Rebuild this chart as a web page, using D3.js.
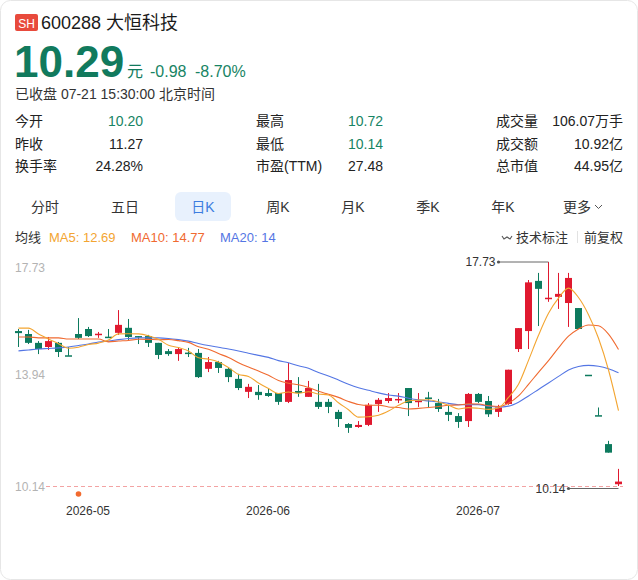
<!DOCTYPE html>
<html>
<head>
<meta charset="utf-8">
<script src="https://cdn.jsdelivr.net/npm/d3@7"></script>
<style>
  body { margin: 0; background: #fff; }
  svg text { font-family: "Liberation Sans", Arial, "Noto Sans CJK SC", sans-serif; }
</style>
</head>
<body>
<div id="card"></div>
<script>
// daily K data, 600288 大恒科技
var dates = [
  "2026-04-22","2026-04-23","2026-04-24","2026-04-27","2026-04-28","2026-04-29","2026-04-30",
  "2026-05-06","2026-05-07","2026-05-08","2026-05-11","2026-05-12","2026-05-13","2026-05-14","2026-05-15",
  "2026-05-18","2026-05-19","2026-05-20","2026-05-21","2026-05-22","2026-05-25","2026-05-26","2026-05-27",
  "2026-05-28","2026-05-29",
  "2026-06-01","2026-06-02","2026-06-03","2026-06-04","2026-06-05","2026-06-08","2026-06-09","2026-06-10",
  "2026-06-11","2026-06-12","2026-06-15","2026-06-16","2026-06-17","2026-06-18","2026-06-22","2026-06-23",
  "2026-06-24","2026-06-25","2026-06-26","2026-06-29","2026-06-30",
  "2026-07-01","2026-07-02","2026-07-03","2026-07-06","2026-07-07","2026-07-08","2026-07-09","2026-07-10",
  "2026-07-13","2026-07-14","2026-07-15","2026-07-16","2026-07-17","2026-07-20","2026-07-21"
];
var opens = [15.39,15.29,14.99,14.85,14.99,14.57,15.29,15.46,15.27,15.20,15.33,15.50,15.22,15.22,14.99,14.71,
  14.61,14.66,14.65,14.11,14.34,14.11,13.77,13.33,13.33,13.29,13.29,12.99,13.36,13.16,12.99,12.99,12.65,
  12.24,12.14,12.21,12.92,13.02,13.04,13.46,13.00,13.14,12.95,12.65,12.51,12.34,13.26,13.02,12.65,12.92,
  14.78,15.39,17.09,16.49,16.55,16.34,16.17,13.91,12.54,11.56,10.20];
var highs = [15.46,15.43,15.05,15.19,15.02,14.85,15.83,15.53,15.36,15.46,16.10,15.80,15.22,15.26,14.99,14.78,
  14.85,14.82,14.78,14.51,14.38,14.14,13.94,13.60,13.56,13.46,13.29,14.31,13.83,13.70,13.60,13.09,12.72,
  12.27,12.34,12.95,13.12,13.29,13.29,13.46,13.29,13.33,13.09,12.89,12.61,13.29,13.29,13.19,12.89,14.08,
  15.49,17.12,17.36,17.73,17.36,17.36,16.17,13.91,12.80,11.67,10.72];
var lows = [14.85,14.95,14.61,14.75,14.51,14.55,15.12,15.19,15.16,15.19,15.26,15.09,14.95,14.85,14.44,14.55,
  14.38,14.51,13.80,14.00,13.97,13.66,13.39,13.12,13.06,13.16,12.89,12.95,13.16,13.16,12.75,12.61,12.14,
  11.94,12.11,12.17,12.65,12.95,12.95,12.51,12.82,12.78,12.65,12.34,12.11,12.14,12.95,12.48,12.48,12.89,
  14.68,14.78,15.56,16.38,16.14,15.53,15.46,13.91,12.52,11.27,10.14];
var closes = [15.32,14.99,14.78,15.05,14.68,14.55,15.16,15.22,15.30,15.19,15.60,15.19,15.19,14.99,14.58,14.61,
  14.78,14.63,13.83,14.34,14.14,13.83,13.46,13.50,13.22,13.19,12.99,13.73,13.29,13.46,12.82,12.82,12.41,
  12.11,12.21,12.89,13.06,13.12,13.09,12.95,13.03,13.11,12.75,12.55,12.31,13.26,12.99,12.57,12.80,14.08,
  15.49,17.04,16.82,16.52,16.65,17.19,15.46,13.91,12.52,11.27,10.29];

// MA values for the days before the window is full
var ma5Head = [15.49, 15.49, 15.29, 15.12];
var ma10Head = [15.19, 15.19, 15.16, 15.16, 15.16, 15.12, 15.12, 15.12, 15.12];
var ma20Head = [14.72, 14.75, 14.78, 14.80, 14.82, 14.85, 14.90, 14.95, 15.02, 15.05,
  15.10, 15.14, 15.16, 15.16, 15.16, 15.14, 15.10, 15.05, 14.97];

// legend texts as shown on the quote page
var maNames = ["MA5", "MA10", "MA20"];
var maLegendValues = ["12.69", "14.77", "14"];

var yTicks = [17.73, 13.94, 10.14];
var monthTicks = ["2026-05-06", "2026-06-01", "2026-07-01"];
var eventDates = ["2026-04-30"];

var tabNames = ["分时", "五日", "日K", "周K", "月K", "季K", "年K", "更多"];
var statLabels = [["今开", "昨收", "换手率"], ["最高", "最低", "市盈(TTM)"], ["成交量", "成交额", "总市值"]];
var statValues = [["10.20", "11.27", "24.28%"], ["10.72", "10.14", "27.48"], ["106.07万手", "10.92亿", "44.95亿"]];
var statGreen = [[true, false, false], [true, true, false], [false, false, false]];

var RED = "#e0192f", GREEN = "#0d7a5e", TEXT = "#222";
var maColors = ["#f3a531", "#f06a30", "#5476e4"];

var W = 638, H = 580;
var svg = d3.select("#card").append("svg")
    .attr("width", W)
    .attr("height", H);

svg.append("rect")
    .attr("x", 0.5).attr("y", 0.5)
    .attr("width", W - 1).attr("height", H - 1)
    .attr("rx", 10)
    .attr("fill", "#fff")
    .attr("stroke", "#e6e6e6");

// ---- header
svg.append("rect")
    .attr("x", 15).attr("y", 14)
    .attr("width", 23).attr("height", 17)
    .attr("rx", 2)
    .attr("fill", "#e84a3c");
svg.append("text")
    .attr("x", 26.5).attr("y", 27.5)
    .attr("text-anchor", "middle")
    .attr("fill", "#fff")
    .style("font-size", "12px")
    .text("SH");
svg.append("text")
    .attr("x", 41).attr("y", 29)
    .attr("fill", "#1a1a1a")
    .style("font-size", "18px")
    .text("600288 大恒科技");

svg.append("text")
    .attr("x", 14).attr("y", 77)
    .attr("fill", "#117a5d")
    .style("font-size", "44px")
    .style("font-weight", "bold")
    .text("10.29");
svg.append("text")
    .attr("x", 127).attr("y", 77)
    .attr("fill", "#117a5d")
    .style("font-size", "16px")
    .text("元");
svg.append("text")
    .attr("x", 150).attr("y", 77)
    .attr("fill", "#178464")
    .style("font-size", "16px")
    .text("-0.98");
svg.append("text")
    .attr("x", 195).attr("y", 77)
    .attr("fill", "#178464")
    .style("font-size", "16px")
    .text("-8.70%");
svg.append("text")
    .attr("x", 15).attr("y", 99)
    .attr("fill", "#333")
    .style("font-size", "14px")
    .text("已收盘 07-21 15:30:00 北京时间");

// ---- stats grid
var colLabelX = [15, 256, 496], colValueX = [143, 383, 623], rowY = [126, 149, 171];
statLabels.forEach(function(col, c) {
    col.forEach(function(label, r) {
        svg.append("text")
            .attr("x", colLabelX[c]).attr("y", rowY[r])
            .attr("fill", TEXT)
            .style("font-size", "14px")
            .text(label);
        svg.append("text")
            .attr("x", colValueX[c]).attr("y", rowY[r])
            .attr("text-anchor", "end")
            .attr("fill", statGreen[c][r] ? "#178464" : TEXT)
            .style("font-size", "14px")
            .text(statValues[c][r]);
    });
});

// ---- period tabs
var tabX = [45, 125, 203, 278, 353, 428, 503, 577];
svg.append("rect")
    .attr("x", 175).attr("y", 192)
    .attr("width", 56).attr("height", 29)
    .attr("rx", 6)
    .attr("fill", "#e8f1fd");
tabNames.forEach(function(name, i) {
    svg.append("text")
        .attr("x", tabX[i]).attr("y", 212)
        .attr("text-anchor", "middle")
        .attr("fill", name == "日K" ? "#3d7de0" : "#333")
        .style("font-size", "14px")
        .text(name);
});
svg.append("path")
    .attr("d", "M595,205 l3.5,3.5 l3.5,-3.5")
    .attr("fill", "none")
    .attr("stroke", "#555")
    .attr("stroke-width", 1);

// ---- MA legend
svg.append("text")
    .attr("x", 15).attr("y", 242)
    .attr("fill", "#333")
    .style("font-size", "13px")
    .text("均线");
var legendX = [49, 131, 220];
maNames.forEach(function(name, i) {
    svg.append("text")
        .attr("x", legendX[i]).attr("y", 242)
        .attr("fill", maColors[i])
        .style("font-size", "13px")
        .text(name + ": " + maLegendValues[i]);
});
svg.append("path")
    .attr("d", "M502,236 l2,3 l3,-2 l3,2 l2,-3")
    .attr("fill", "none")
    .attr("stroke", "#555")
    .attr("stroke-width", 1.1);
svg.append("text")
    .attr("x", 516).attr("y", 242)
    .attr("fill", "#333")
    .style("font-size", "13px")
    .text("技术标注");
svg.append("line")
    .attr("x1", 577.5).attr("x2", 577.5)
    .attr("y1", 231).attr("y2", 243)
    .attr("stroke", "#e2e2e2");
svg.append("text")
    .attr("x", 623).attr("y", 242)
    .attr("text-anchor", "end")
    .attr("fill", "#333")
    .style("font-size", "13px")
    .text("前复权");

// ---- candles
var xScale = d3.scaleBand()
    .domain(dates)
    .range([13, 623]);
var yScale = d3.scaleLinear()
    .domain([d3.min(lows), d3.max(highs)])
    .range([486, 262]);

var candles = dates.map(function(d, i) {
    return {date: d, o: opens[i], h: highs[i], l: lows[i], c: closes[i],
            prev: i > 0 ? closes[i - 1] : opens[i]};
});
function isUp(d) {
    if (d.c != d.o) return d.c > d.o;
    return d.c >= d.prev;
}
function cx(date) { return Math.round(xScale(date) + xScale.bandwidth() / 2); }

// low-price guide line
svg.append("line")
    .attr("x1", 46).attr("x2", 623)
    .attr("y1", yScale(yTicks[2]) + 0.5).attr("y2", yScale(yTicks[2]) + 0.5)
    .attr("stroke", "#f3a3a3")
    .attr("stroke-dasharray", "4,3");

var yAxis = d3.axisRight(yScale)
    .tickValues(yTicks)
    .tickSize(0)
    .tickFormat(d3.format(".2f"));
var gy = svg.append("g")
    .attr("transform", "translate(12,0)")
    .call(yAxis);
gy.select(".domain").remove();
gy.selectAll("text")
    .attr("fill", "#b3b3b3")
    .style("font-size", "12px")
    .attr("dy", function(d) { return d == yTicks[0] ? "0.8em" : "0.35em"; });

var xAxis = d3.axisBottom(xScale)
    .tickValues(monthTicks)
    .tickSize(0)
    .tickFormat(function(d) { return d.slice(0, 7); });
var gx = svg.append("g")
    .attr("transform", "translate(0,500)")
    .call(xAxis);
gx.select(".domain").remove();
gx.selectAll("text")
    .attr("fill", "#333")
    .attr("dy", "1.0em")
    .style("font-size", "12px");

var candleG = svg.append("g").attr("class", "candles");
candleG.selectAll("line.wick")
    .data(candles)
    .enter().append("line")
    .attr("class", "wick")
    .attr("x1", function(d) { return cx(d.date) + 0.5; })
    .attr("x2", function(d) { return cx(d.date) + 0.5; })
    .attr("y1", function(d) { return yScale(d.h); })
    .attr("y2", function(d) { return yScale(d.l); })
    .attr("stroke", function(d) { return isUp(d) ? RED : GREEN; })
    .attr("stroke-width", 1);
candleG.selectAll("rect.body")
    .data(candles)
    .enter().append("rect")
    .attr("class", "body")
    .attr("x", function(d) { return cx(d.date) - 3; })
    .attr("width", 7)
    .attr("y", function(d) { return yScale(Math.max(d.o, d.c)); })
    .attr("height", function(d) { return Math.max(1.5, Math.abs(yScale(d.o) - yScale(d.c))); })
    .attr("fill", function(d) { return isUp(d) ? RED : GREEN; });

// ---- moving averages
var ma5 = movingAvg(5, ma5Head),
    ma10 = movingAvg(10, ma10Head),
    ma20 = movingAvg(20, ma20Head);
var maLine = d3.line()
    .x(function(d, i) { return cx(dates[i]) + 0.5; })
    .y(function(d) { return yScale(d); })
    .curve(d3.curveMonotoneX);
[[ma20, maColors[2]], [ma10, maColors[1]], [ma5, maColors[0]]].forEach(function(m) {
    svg.append("path")
        .attr("d", maLine(m[0]))
        .attr("fill", "none")
        .attr("stroke", m[1])
        .attr("stroke-width", 1.1);
});

// ---- high / low markers
var hiIdx = d3.maxIndex(highs), loIdx = d3.minIndex(lows);
function marker(idx, value, yOff) {
    var x = cx(dates[idx]) + 0.5, y = yScale(value) + yOff;
    svg.append("line")
        .attr("x1", x - 50).attr("x2", x)
        .attr("y1", y).attr("y2", y)
        .attr("stroke", "#666");
    svg.append("circle")
        .attr("cx", x - 50).attr("cy", y)
        .attr("r", 1.6)
        .attr("fill", "#555");
    svg.append("text")
        .attr("x", x - 53).attr("y", y)
        .attr("dy", "0.35em")
        .attr("text-anchor", "end")
        .attr("fill", "#333")
        .style("font-size", "12px")
        .text(value.toFixed(2));
}
marker(hiIdx, highs[hiIdx], 0);
marker(loIdx, lows[loIdx], 2.5);

// event dot under the candles
svg.selectAll("circle.event")
    .data(eventDates)
    .enter().append("circle")
    .attr("class", "event")
    .attr("cx", function(d) { return cx(d) + 0.5; })
    .attr("cy", yScale(yTicks[2]) + 8)
    .attr("r", 2.8)
    .attr("fill", "#f26a2e");

function movingAvg(n, head) {
    return closes.map(function(c, i) {
        if (i < n - 1) return head[i];
        return d3.mean(closes.slice(i - n + 1, i + 1));
    });
}
</script>
</body>
</html>
